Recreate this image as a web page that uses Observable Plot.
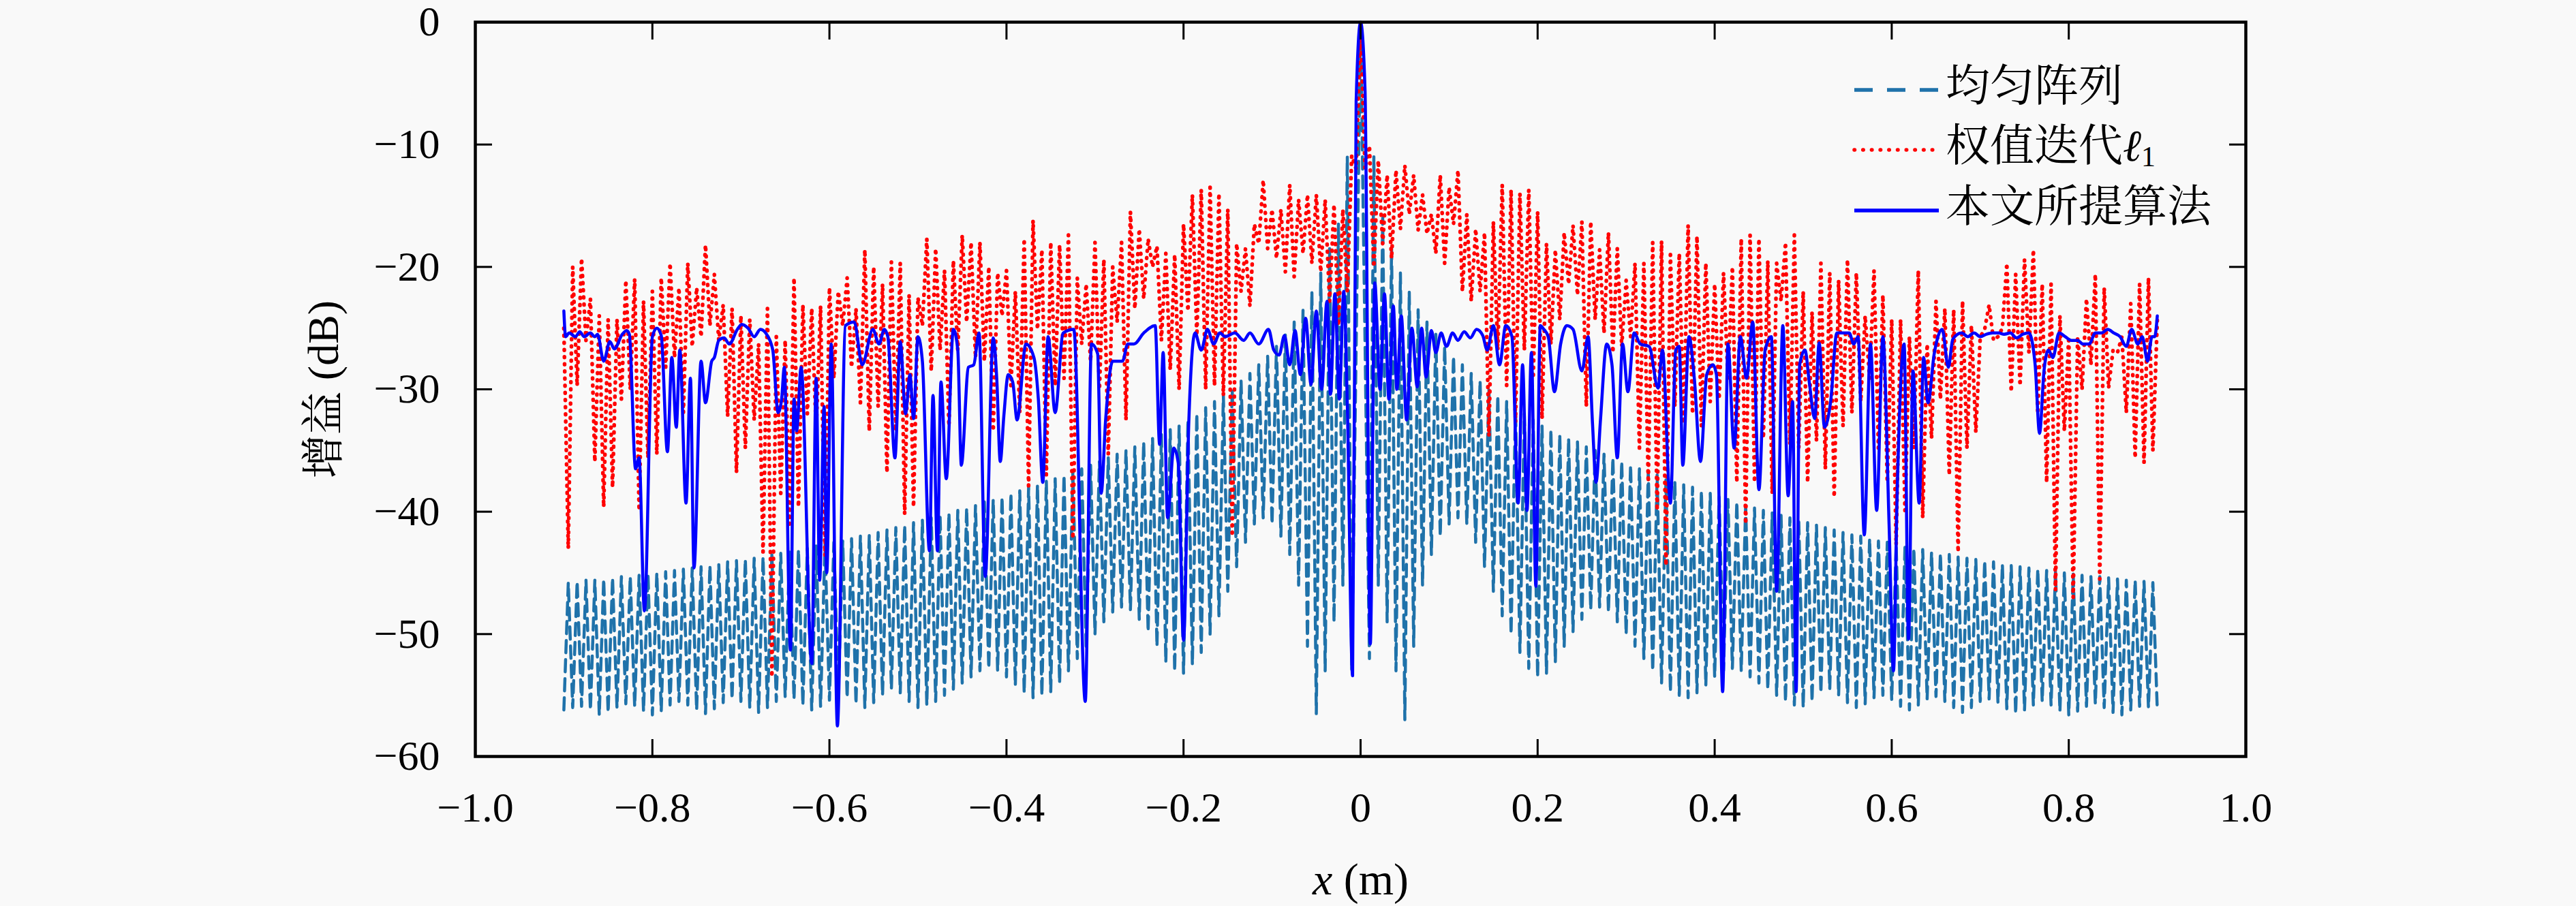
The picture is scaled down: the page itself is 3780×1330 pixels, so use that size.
<!DOCTYPE html>
<html><head><meta charset="utf-8">
<script src="https://cdn.jsdelivr.net/npm/d3@7"></script>
<script src="https://cdn.jsdelivr.net/npm/@observablehq/plot@0.6"></script>
<style>
html,body{margin:0;padding:0;background:#f9f9f9;}
#wrap{position:relative;width:3780px;height:1330px;overflow:hidden;}
#legend{position:absolute;left:0;top:0;pointer-events:none;}
</style></head><body><div id="wrap"></div>
<script>
// ---- tick labels ----
const xTicks = [-1, -0.8, -0.6, -0.4, -0.2, 0, 0.2, 0.4, 0.6, 0.8, 1];
const yTicks = [-60, -50, -40, -30, -20, -10, 0];
const seriesNames = ["均匀阵列", "权值迭代", "本文所提算法"];
const xLabel = "x (m)";
const yLabel = "增益 (dB)";

// ---- uniform array (dashed): main-lobe peak, sidelobe peaks and nulls (dB) ----
const uniMain = 0;
// peaks at |x| = 0.015, 0.025, ... 0.895 ; nulls at |x| = 0.01, 0.02, ... 0.90
const uniPeakRight = [-11,-16,-18.5,-20.5,-22,-23.5,-24.5,-25.5,-26.5,-27.3,
-28,-28.7,-29.3,-30,-30.5,-31,-31.5,-32,-32.5,-33,
-33.3,-33.7,-34,-34.3,-34.7,-35,-35.3,-35.6,-35.9,-36.2,
-36.5,-36.7,-37,-37.3,-37.5,-37.8,-38,-38.3,-38.5,-38.8,
-39,-39.2,-39.5,-39.7,-39.9,-40.1,-40.3,-40.5,-40.7,-40.9,
-41.1,-41.3,-41.5,-41.7,-41.9,-42,-42.2,-42.4,-42.5,-42.7,
-42.8,-43,-43.1,-43.3,-43.4,-43.5,-43.7,-43.8,-43.9,-44,
-44.1,-44.3,-44.4,-44.5,-44.6,-44.7,-44.8,-44.9,-45,-45.1,
-45.2,-45.3,-45.3,-45.4,-45.5,-45.6,-45.6,-45.7,-45.8];
const uniNullRight = [-52,-46,-49,-53,-57,-51,-46,-43.5,-42,-41,
-40.5,-41,-42.5,-44.5,-46.5,-48.5,-50,-51.5,-52.8,-53.5,
-53.2,-52.3,-51,-49.8,-48.8,-48,-47.8,-48.2,-49,-50,
-51,-52,-53,-54,-54.7,-55,-55.2,-54.8,-54.2,-53.5,
-53,-52.8,-53,-53.5,-54,-54.5,-55,-55.5,-55.8,-56,
-55.5,-54.8,-54.5,-55,-55.6,-56,-55.7,-55.2,-55,-55.4,
-55.9,-56.2,-55.8,-55.3,-55.1,-55.5,-56,-56.4,-56,-55.5,
-55.3,-55.6,-56.1,-56.5,-56.2,-55.8,-55.5,-55.8,-56.3,-56.6,
-56.3,-55.9,-55.7,-56,-56.4,-56.6,-56.2,-55.9,-56,-56.2];
const uniPeakLeft = [-11,-16.5,-18.5,-20.5,-22,-23.5,-24.5,-25.5,-26.5,-27.3,
-28,-28.7,-29.3,-30,-30.5,-31,-31.5,-32,-32.5,-33,
-33.3,-33.7,-34,-34.3,-34.7,-35,-35.3,-35.6,-35.9,-36.2,
-36.5,-36.7,-37,-37.3,-37.5,-37.8,-38,-38.3,-38.5,-38.8,
-39,-39.2,-39.5,-39.7,-39.9,-40.1,-40.3,-40.5,-40.7,-40.9,
-41.1,-41.3,-41.5,-41.7,-41.9,-42,-42.2,-42.4,-42.5,-42.7,
-42.8,-43,-43.1,-43.3,-43.4,-43.5,-43.7,-43.8,-43.9,-44,
-44.1,-44.3,-44.4,-44.5,-44.6,-44.7,-44.8,-44.9,-45,-45.1,
-45.2,-45.3,-45.3,-45.4,-45.5,-45.6,-45.6,-45.7,-45.8];
const uniNullLeft = [-53,-46,-49,-53,-56.5,-51,-46,-43.5,-42,-41,
-40.5,-41,-42.5,-44.5,-46.5,-48.5,-50,-51.5,-52.5,-53.2,
-53,-52.3,-51,-49.8,-48.8,-48,-47.8,-48.2,-49,-50,
-51,-52,-53,-54,-54.7,-55,-55.2,-54.8,-54.2,-53.5,
-53,-52.8,-53,-53.5,-54,-54.5,-55,-55.5,-55.8,-56,
-55.5,-54.8,-54.5,-55,-55.6,-56,-55.7,-55.2,-55,-55.4,
-55.9,-56.2,-55.8,-55.3,-55.1,-55.5,-56,-56.4,-56,-55.5,
-55.3,-55.6,-56.1,-56.5,-56.2,-55.8,-55.5,-55.8,-56.3,-56.6,
-56.3,-55.9,-55.7,-56,-56.4,-56.6,-56.2,-55.9,-56,-56.2];

// ---- reweighted l1 (dotted): peaks at x = -0.90 + 0.01 i, troughs at x = -0.895 + 0.01 i ----
const redPeak = [-25,-20,-19.3,-22.6,-24,-24.3,-24.3,-21.1,-21,-22.8,
-22,-20.9,-19.7,-21.7,-19.7,-21.7,-18.2,-20.6,-23.1,-23.4,
-24,-24.3,-26.3,-23.4,-25.7,-26,-20.9,-23.1,-23.4,-23.2,
-21.7,-22,-20.9,-23.4,-18.6,-20,-21.4,-19.6,-19.7,-22.3,
-22.5,-17.7,-18.5,-20.3,-19.5,-17.4,-18,-18,-20,-20.5,
-20.3,-22,-17.7,-16.2,-18.6,-18,-18.2,-17.4,-20.9,-21.4,
-18,-19.4,-20,-18,-15.5,-16.9,-17.7,-18.3,-18.9,-19,
-16.5,-14.1,-13.7,-13.5,-14,-15.3,-18.1,-18.5,-16.5,-12.9,
-15.3,-15.3,-13.3,-14.5,-14.1,-14.1,-14.5,-14.9,-15.3,-10.9,
0,-10.1,-11.3,-12.5,-12.1,-11.7,-12.5,-14.1,-15.7,-12.5,
-13.5,-12.1,-15.7,-16.9,-17.2,-16.3,-13.3,-13.7,-14,-13.7,
-15.5,-18.1,-18.6,-17.2,-16.6,-16.3,-16.3,-18.6,-17.2,-18.5,
-21.1,-19.7,-19.7,-18,-17.9,-19,-18.9,-16.6,-17.5,-19.7,
-21.4,-20.5,-20,-17.7,-17.4,-17.7,-19.5,-19.7,-18,-17.4,
-22,-23.7,-19.7,-20.5,-21.1,-19.4,-20.5,-24,-20.3,-22.3,
-24.3,-24.3,-25.7,-20.3,-26.3,-22.8,-23.4,-23.5,-22.8,-24.8,
-25.7,-23.1,-25.7,-19.7,-20.6,-19.4,-18.6,-21.4,-21.4,-24,
-25.7,-25.7,-22.6,-20.6,-21.7,-26.8,-25.7,-23,-21.4,-20.9,
-24.3];
const redTrough = [-43,-29.7,-26,-35.9,-39.6,-38,-30.8,-30,-39.9,-35.6,
-35.3,-28.2,-27.4,-31.9,-26.5,-25.7,-24.8,-26,-32.2,-36.8,
-34.8,-32.5,-43.3,-53.5,-38.5,-41,-39.6,-32,-33.4,-43.6,
-29.1,-24.8,-28.2,-31.1,-33.4,-31.4,-36.8,-33.4,-40.2,-39.6,
-24.8,-28.5,-26.8,-33,-26.8,-24.5,-27.4,-27.7,-33.4,-24,
-29.7,-31.9,-37.9,-25.1,-37,-29.7,-29.1,-42.2,-26.3,-27.7,
-30,-35.3,-24.5,-32.5,-23.4,-22.6,-20,-26,-28.4,-30,
-23.6,-25.6,-30,-29.7,-30.5,-42,-22,-23.2,-18.1,-18.5,
-19.3,-20.4,-20.8,-18.9,-19.7,-20.4,-22.8,-24.8,-22,-12,
-12,-20,-18.1,-19.3,-16.9,-15.7,-17,-17.3,-18.9,-19.7,
-16.5,-22,-22.8,-22,-33.8,-26.8,-29.7,-32.7,-26.8,-29.1,
-32.4,-26.3,-24.3,-21.4,-22.3,-31.4,-24.3,-25.4,-27,-26.5,
-25.7,-34.8,-37.6,-39.9,-44.4,-31.4,-32.8,-32,-33,-31,
-30.8,-29.1,-37.6,-41,-37.6,-34,-38.5,-22.8,-34.5,-34.8,
-37.6,-34.2,-36.5,-38.8,-33,-31.9,-31,-29.1,-34.8,-37.6,
-42.7,-39.9,-34.8,-40.5,-34,-30.8,-37,-43.3,-34.8,-33.5,
-25.1,-26,-25,-30.2,-29.7,-27,-32,-37.6,-46.4,-33.4,
-47,-30,-28,-45.5,-29.9,-27,-31.9,-35.6,-36,-35];

// ---- proposed algorithm (solid): [x (m), gain (dB)] read at the curve's turning points ----
const bluePts = [
[-0.900,-23.6],[-0.898,-25.7],[-0.894,-25.4],[-0.887,-25.7],[-0.882,-25.3],[-0.877,-25.7],[-0.870,-25.4],[-0.865,-25.7],
[-0.862,-25.5],[-0.855,-27.7],[-0.848,-26.1],[-0.843,-26.7],[-0.834,-25.5],[-0.829,-25.2],[-0.826,-25.5],[-0.819,-36.5],
[-0.815,-35.6],[-0.809,-48.1],[-0.800,-25.7],[-0.795,-25.0],[-0.790,-25.6],[-0.783,-35.1],[-0.778,-27.4],[-0.773,-33.1],
[-0.769,-26.8],[-0.762,-39.3],[-0.757,-29.1],[-0.753,-44.6],[-0.745,-27.7],[-0.740,-31.1],[-0.733,-27.7],[-0.730,-27.4],
[-0.725,-26.0],[-0.719,-25.8],[-0.713,-26.3],[-0.704,-25.1],[-0.699,-24.7],[-0.692,-25.0],[-0.685,-25.7],[-0.678,-25.1],
[-0.671,-25.5],[-0.664,-26.8],[-0.658,-31.9],[-0.654,-30.8],[-0.651,-28.2],[-0.644,-51.3],[-0.640,-30.8],[-0.637,-33.4],
[-0.632,-28.2],[-0.620,-52.4],[-0.615,-29.1],[-0.611,-45.6],[-0.606,-31.4],[-0.603,-45.0],[-0.598,-26.3],[-0.591,-57.5],
[-0.582,-24.8],[-0.572,-24.5],[-0.563,-28.0],[-0.551,-25.1],[-0.544,-26.3],[-0.538,-25.1],[-0.534,-25.7],[-0.526,-35.6],
[-0.520,-26.1],[-0.514,-32.0],[-0.509,-28.8],[-0.505,-32.4],[-0.500,-25.7],[-0.495,-27.7],[-0.487,-43.2],[-0.483,-30.5],
[-0.478,-43.2],[-0.474,-29.4],[-0.468,-37.3],[-0.460,-25.1],[-0.455,-26.8],[-0.451,-36.2],[-0.443,-28.2],[-0.437,-28.0],
[-0.431,-25.4],[-0.424,-45.3],[-0.415,-25.8],[-0.411,-29.1],[-0.407,-35.9],[-0.403,-32.2],[-0.398,-28.8],[-0.393,-29.4],
[-0.388,-32.5],[-0.378,-26.3],[-0.369,-27.4],[-0.364,-30.8],[-0.359,-37.6],[-0.353,-25.7],[-0.345,-31.9],[-0.336,-25.4],
[-0.324,-25.1],[-0.311,-55.5],[-0.304,-26.3],[-0.297,-27.1],[-0.293,-38.5],[-0.288,-32.5],[-0.280,-27.7],[-0.269,-27.7],
[-0.263,-26.3],[-0.256,-26.3],[-0.245,-25.4],[-0.232,-24.8],[-0.227,-34.5],[-0.223,-27.0],[-0.218,-40.5],[-0.211,-34.8],
[-0.206,-36.0],[-0.200,-50.5],[-0.194,-32.6],[-0.187,-25.4],[-0.180,-26.8],[-0.173,-25.1],[-0.166,-26.3],[-0.159,-25.4],
[-0.153,-25.7],[-0.142,-25.4],[-0.132,-26.0],[-0.125,-25.4],[-0.115,-26.3],[-0.104,-25.1],[-0.098,-26.8],[-0.092,-27.2],
[-0.086,-25.6],[-0.080,-28.0],[-0.074,-25.2],[-0.068,-28.8],[-0.062,-24.2],[-0.056,-29.6],[-0.050,-23.6],[-0.044,-30.0],
[-0.038,-22.8],[-0.034,-30.4],[-0.029,-22.2],[-0.024,-30.8],[-0.019,-22.0],[-0.015,-31.2],[-0.009,-53.4],[-0.005,-6.5],
[0.000,0],[0.005,-5.5],[0.011,-50.8],[0.016,-21.3],[0.022,-30.0],[0.027,-22.2],[0.032,-30.8],[0.037,-23.2],
[0.041,-30.0],[0.046,-24.0],[0.052,-32.5],[0.058,-25.0],[0.064,-29.8],[0.069,-25.0],[0.074,-29.0],[0.080,-25.2],
[0.085,-27.0],[0.091,-25.4],[0.097,-26.5],[0.104,-25.4],[0.110,-26.0],[0.117,-25.3],[0.124,-25.8],[0.131,-25.1],
[0.138,-25.6],[0.143,-26.8],[0.150,-24.8],[0.157,-28.0],[0.164,-24.8],[0.171,-25.7],[0.178,-39.3],[0.183,-28.0],
[0.188,-39.9],[0.193,-27.0],[0.198,-46.1],[0.203,-24.8],[0.207,-25.1],[0.212,-25.7],[0.219,-30.2],[0.226,-26.3],
[0.233,-24.8],[0.240,-25.1],[0.250,-28.5],[0.257,-25.7],[0.262,-32.8],[0.266,-37.6],[0.271,-32.5],[0.278,-26.3],
[0.284,-28.0],[0.290,-35.6],[0.296,-26.3],[0.302,-30.2],[0.309,-25.4],[0.316,-26.3],[0.326,-26.5],[0.336,-29.9],
[0.341,-26.8],[0.350,-39.3],[0.356,-26.8],[0.360,-26.5],[0.364,-36.2],[0.371,-25.7],[0.377,-29.1],[0.384,-35.9],
[0.391,-28.8],[0.398,-28.0],[0.402,-28.8],[0.409,-54.7],[0.415,-26.3],[0.422,-34.8],[0.429,-25.7],[0.436,-29.1],
[0.443,-24.5],[0.450,-38.2],[0.457,-26.8],[0.464,-25.7],[0.470,-46.5],[0.477,-24.8],[0.483,-38.7],[0.488,-31.0],
[0.492,-54.7],[0.496,-28.0],[0.502,-26.8],[0.507,-29.5],[0.513,-32.4],[0.518,-26.2],[0.524,-33.1],[0.531,-31.0],
[0.538,-25.4],[0.545,-25.4],[0.552,-25.4],[0.557,-26.3],[0.562,-25.7],[0.569,-41.9],[0.576,-26.3],[0.583,-39.9],
[0.590,-25.7],[0.597,-41.0],[0.602,-53.0],[0.606,-39.0],[0.614,-26.3],[0.619,-50.4],[0.624,-28.5],[0.631,-39.3],
[0.636,-27.4],[0.641,-31.1],[0.648,-27.1],[0.657,-25.1],[0.664,-28.2],[0.669,-25.9],[0.679,-25.4],[0.686,-25.7],
[0.693,-25.4],[0.700,-25.7],[0.707,-25.5],[0.714,-25.4],[0.721,-25.4],[0.727,-25.5],[0.734,-25.4],[0.741,-25.8],
[0.748,-25.5],[0.755,-25.4],[0.762,-28.0],[0.767,-33.6],[0.772,-28.5],[0.777,-26.8],[0.782,-27.4],[0.789,-25.4],
[0.796,-25.7],[0.803,-26.0],[0.810,-26.0],[0.816,-26.3],[0.823,-26.3],[0.830,-25.4],[0.837,-25.4],[0.844,-25.1],
[0.851,-25.4],[0.858,-25.7],[0.865,-26.5],[0.871,-25.1],[0.878,-26.3],[0.883,-25.7],[0.889,-27.7],[0.894,-25.7],
[0.897,-25.7],[0.900,-24.0]];

// ---- build tables ----
const uniform = [{x: 0, y: uniMain}];
uniNullRight.forEach((y, k) => uniform.push({x: +(0.01 + 0.01 * k).toFixed(3), y}));
uniPeakRight.forEach((y, k) => uniform.push({x: +(0.015 + 0.01 * k).toFixed(3), y}));
uniNullLeft.forEach((y, k) => uniform.push({x: -(0.01 + 0.01 * k).toFixed(3), y}));
uniPeakLeft.forEach((y, k) => uniform.push({x: -(0.015 + 0.01 * k).toFixed(3), y}));
uniform.sort((a, b) => a.x - b.x);

const red = [];
redPeak.forEach((y, i) => red.push({x: +(-0.9 + 0.01 * i).toFixed(3), y}));
redTrough.forEach((y, i) => red.push({x: +(-0.895 + 0.01 * i).toFixed(3), y}));
red.sort((a, b) => a.x - b.x);

const blue = bluePts.map(([x, y]) => ({x, y})).sort((a, b) => a.x - b.x);

const colUni = "#1f72aa", colRed = "#ff0000", colBlue = "#0000ff";
const serif = "'Liberation Serif', 'Noto Serif CJK SC', 'Noto Sans CJK SC', serif";
const fmtX = d => d === 0 ? "0" : d3.format(".1f")(d);
const fmtY = d => d === 0 ? "0" : d3.format("d")(d);

const plot = Plot.plot({
  width: 3780, height: 1330,
  marginLeft: 697, marginRight: 485, marginTop: 32, marginBottom: 220,
  x: {domain: [-1, 1], label: null},
  y: {domain: [-60, 0], label: null},
  style: {background: "none", fontFamily: serif, fontSize: "62px", color: "black"},
  marks: [
    Plot.line(uniform, {x: "x", y: "y", stroke: colUni, strokeWidth: 4.5, strokeDasharray: "18,10", strokeLinejoin: "round"}),
    Plot.line(red, {x: "x", y: "y", stroke: colRed, strokeWidth: 5.5, strokeDasharray: "1,9.5", strokeLinecap: "round", strokeLinejoin: "round"}),
    Plot.line(blue, {x: "x", y: "y", stroke: colBlue, strokeWidth: 4.5, curve: "monotone-x"}),
    Plot.frame({stroke: "black", strokeWidth: 4.5}),
    Plot.axisX({anchor: "bottom", ticks: xTicks, tickSize: -25, tickPadding: 76, tickFormat: fmtX, strokeWidth: 3, label: null, fontSize: 62}),
    Plot.axisX({anchor: "top", ticks: xTicks, tickSize: -25, tickFormat: () => "", strokeWidth: 3, label: null}),
    Plot.axisY({anchor: "left", ticks: yTicks, tickSize: -25, tickPadding: 77, tickFormat: fmtY, strokeWidth: 3, label: null, fontSize: 62}),
    Plot.axisY({anchor: "right", ticks: yTicks, tickSize: -25, tickFormat: () => "", strokeWidth: 3, label: null}),
    Plot.text([yLabel], {text: d => d, frameAnchor: "left", textAnchor: "middle", lineAnchor: "middle", dx: -222, rotate: -90, fontSize: 64}),
    Plot.text([xLabel], {text: d => d, frameAnchor: "bottom", textAnchor: "middle", lineAnchor: "middle", dy: 181, fontSize: 66})
  ]
});
document.getElementById("wrap").appendChild(plot);

// italic x in the x-axis label
plot.querySelectorAll("text").forEach(t => {
  if (t.textContent === xLabel) {
    t.textContent = "";
    const ns = "http://www.w3.org/2000/svg";
    const a = document.createElementNS(ns, "tspan"); a.setAttribute("font-style", "italic"); a.textContent = "x";
    const b = document.createElementNS(ns, "tspan"); b.textContent = " (m)";
    t.appendChild(a); t.appendChild(b);
  }
});

// ---- legend (overlay, top right inside the frame) ----
const lg = d3.select("#wrap").append("svg").attr("id", "legend").attr("width", 3780).attr("height", 1330);
const items = [
  {name: seriesNames[0], stroke: colUni, dash: "27,21", cap: "butt", y: 132},
  {name: seriesNames[1], stroke: colRed, dash: "0.5,12.2", cap: "round", y: 220, sub: true},
  {name: seriesNames[2], stroke: colBlue, dash: null, cap: "butt", y: 309}
];
items.forEach(it => {
  lg.append("line").attr("x1", 2721).attr("x2", 2845).attr("y1", it.y).attr("y2", it.y)
    .attr("stroke", it.stroke).attr("stroke-width", 5.5).attr("stroke-dasharray", it.dash).attr("stroke-linecap", it.cap);
  const t = lg.append("text").attr("x", 2855).attr("y", it.y - 6).attr("dominant-baseline", "central")
    .attr("font-family", serif).attr("font-size", 65).attr("fill", "black");
  t.append("tspan").text(it.name);
  if (it.sub) {
    t.append("tspan").attr("font-style", "italic").attr("font-family", "'Liberation Serif', 'DejaVu Serif', serif").text("ℓ");
    t.append("tspan").attr("font-size", 42).attr("dy", 16).text("1");
  }
});
</script></body></html>
